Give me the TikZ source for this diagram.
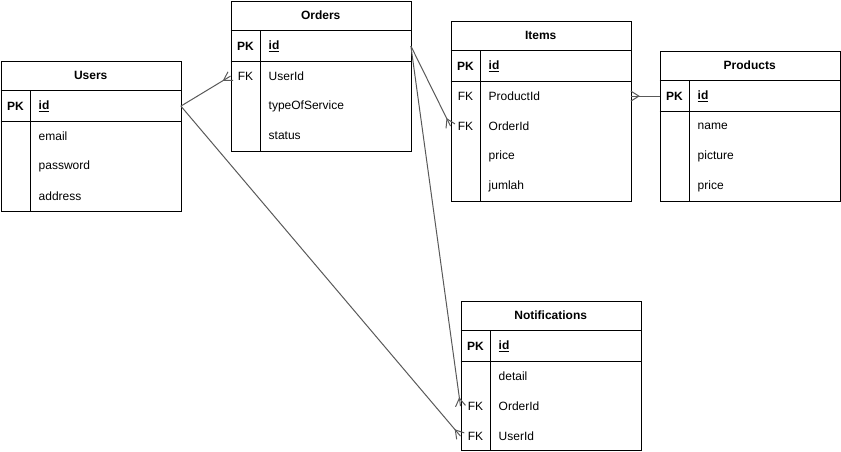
\documentclass[tikz,border=0pt]{standalone}
\usepackage{fontspec}
\setmainfont{Liberation Sans}
\usetikzlibrary{calc}
\tikzset{
  tbl/.style={draw=black,line width=1pt,fill=white,minimum width=180pt,minimum height=#1,inner sep=0pt,anchor=north west},
  rowbox/.style={minimum width=180pt,minimum height=30pt,inner sep=0pt,anchor=north west},
  tline/.style={draw=black,line width=1pt},
  ttl/.style={font=\fontsize{12}{14}\selectfont\bfseries},
  keytxt/.style={font=\fontsize{12}{14}\selectfont,inner sep=0pt},
  pktxt/.style={font=\fontsize{12}{14}\selectfont\bfseries,inner sep=0pt},
  fld/.style={font=\fontsize{12}{14}\selectfont,anchor=west,inner sep=0pt},
  idfld/.style={font=\fontsize{12}{14}\selectfont\bfseries,anchor=west,inner sep=0pt},
  link/.style={draw=black!65,line width=1pt},
}
\newcommand\ertable[5]{%
  \node[tbl=#5] (#1) at (#2,#3) {};
  \node[rowbox,ttl] (#1-h) at (#1.north west) {#4};
  \draw[tline] (#1-h.south west) -- (#1-h.south east);
  \node[rowbox] (#1-r1) at (#1-h.south west) {};
  \draw[tline] (#1-r1.south west) -- (#1-r1.south east);
  \draw[tline] ($(#1-r1.north west)+(30,0)$) -- ($(#1.south west)+(30,0)$);
  \node[pktxt] at ($(#1-r1.west)+(15,0)$) {PK};
  \node[idfld] at ($(#1-r1.west)+(38,0)$) {\underline{id}};
}
\newcommand\errow[4]{%
  \node[rowbox] (#1-r#2) at ($(#1-h.south west)+(0,{(#2-1)*30})$) {};
  \node[keytxt] at ($(#1-r#2.west)+(15,0)$) {#3};
  \node[fld] at ($(#1-r#2.west)+(38,0)$) {#4};
}
\newcommand\crowfoot[2]{%
  \draw[link] ($(#2)!5pt!90:(#1)$) -- ($(#2)!8pt!(#1)$) -- ($(#2)!5pt!-90:(#1)$);
}
\begin{document}
\begin{tikzpicture}[x=1pt,y=-1pt]
\useasboundingbox (0,0) rectangle (841,451);

% Users
\ertable{users}{0.5}{60.5}{Users}{150pt}
\errow{users}{2}{}{email}
\errow{users}{3}{}{password}
\errow{users}{4}{}{address}

% Orders
\ertable{orders}{230.5}{0.5}{Orders}{150pt}
\errow{orders}{2}{FK}{UserId}
\errow{orders}{3}{}{typeOfService}
\errow{orders}{4}{}{status}

% Items
\ertable{items}{450.5}{20.5}{Items}{180pt}
\errow{items}{2}{FK}{ProductId}
\errow{items}{3}{FK}{OrderId}
\errow{items}{4}{}{price}
\errow{items}{5}{}{jumlah}

% Products
\ertable{products}{659.5}{50.5}{Products}{150pt}
\errow{products}{2}{}{name}
\errow{products}{3}{}{picture}
\errow{products}{4}{}{price}

% Notifications
\ertable{notif}{460.5}{300.5}{Notifications}{149.5pt}
\errow{notif}{2}{}{detail}
\errow{notif}{3}{FK}{OrderId}
\errow{notif}{4}{FK}{UserId}

% Connectors
\draw[link] (users-r1.east) -- (orders-r2.west);
\crowfoot{users-r1.east}{orders-r2.west}
\draw[link] (users-r1.east) -- (notif-r4.west);
\crowfoot{users-r1.east}{notif-r4.west}
\draw[link] (orders-r1.east) -- (items-r3.west);
\crowfoot{orders-r1.east}{items-r3.west}
\draw[link] (orders-r1.east) -- (notif-r3.west);
\crowfoot{orders-r1.east}{notif-r3.west}
\draw[link] (items-r2.east) -- (products-r1.west);
\crowfoot{products-r1.west}{items-r2.east}
\end{tikzpicture}
\end{document}
